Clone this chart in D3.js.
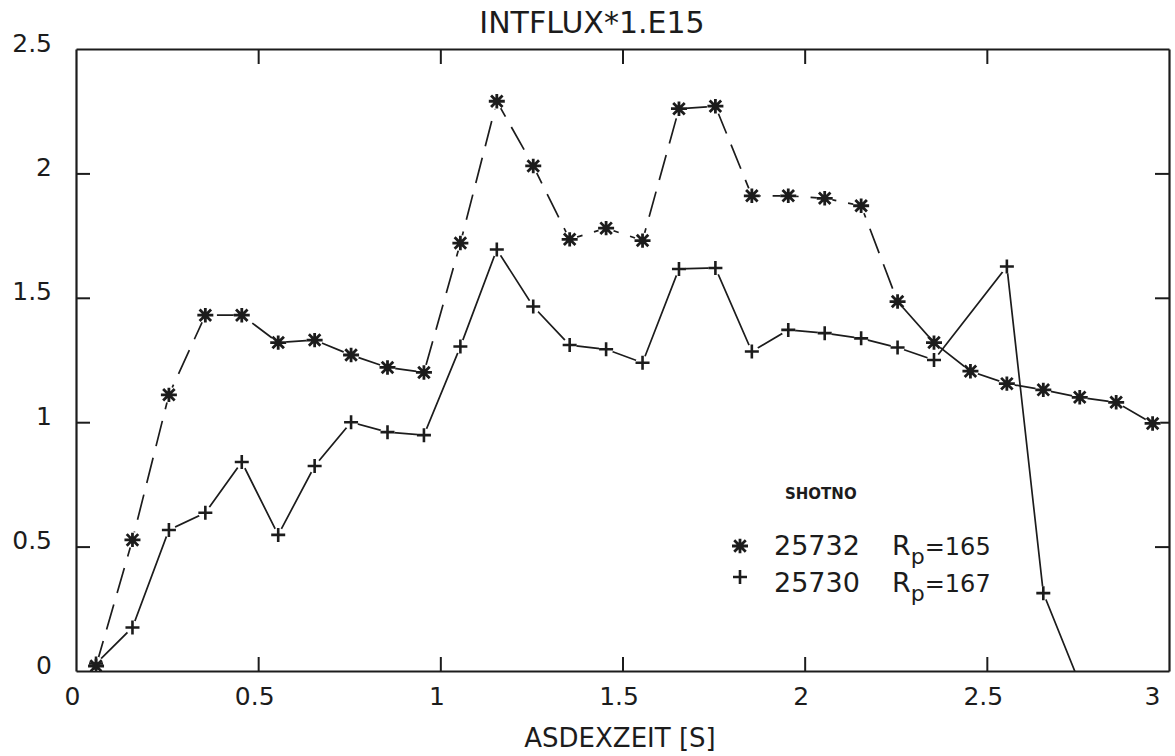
<!DOCTYPE html>
<html>
<head>
<meta charset="utf-8">
<script src="https://cdn.jsdelivr.net/npm/d3@7"></script>
<style>
  html, body { margin: 0; padding: 0; background: #fff; }
  svg { display: block; }
  text { font-family: "DejaVu Sans", sans-serif; fill: #1c1c1c; }
</style>
</head>
<body>
<svg id="chart" width="1175" height="756"></svg>
<script>
// Discharge time axis (s), sampled every 0.1 s
const times = [0.055, 0.155, 0.255, 0.355, 0.455, 0.555, 0.655, 0.755, 0.855, 0.955,
               1.055, 1.155, 1.255, 1.355, 1.455, 1.555, 1.655, 1.755, 1.855, 1.955,
               2.055, 2.155, 2.255, 2.355, 2.455, 2.555, 2.655, 2.755, 2.855, 2.955];

// Integrated flux (units of 1e15) for shot 25732, Rp = 165
const flux25732 = [0.02, 0.527, 1.11, 1.43, 1.43, 1.32, 1.33, 1.27, 1.22, 1.20,
                   1.72, 2.29, 2.03, 1.735, 1.78, 1.73, 2.26, 2.27, 1.91, 1.91,
                   1.90, 1.87, 1.485, 1.32, 1.205, 1.155, 1.13, 1.10, 1.08, 0.995];

// Integrated flux (units of 1e15) for shot 25730, Rp = 167 (no sample at 2.455 s)
const flux25730 = [0.03, 0.175, 0.567, 0.636, 0.84, 0.547, 0.824, 1.0, 0.96, 0.948,
                   1.304, 1.694, 1.465, 1.31, 1.293, 1.239, 1.616, 1.62, 1.284, 1.371,
                   1.358, 1.337, 1.30, 1.25, null, 1.626, 0.313, -0.05];

const xTicks = [0, 0.5, 1, 1.5, 2, 2.5, 3];
const xTickLabels = ["0", "0.5", "1", "1.5", "2", "2.5", "3"];
const yTicks = [0, 0.5, 1, 1.5, 2, 2.5];
const yTickLabels = ["0", "0.5", "1", "1.5", "2", "2.5"];

const legendTitle = "SHOTNO";
const legendShots = ["25732", "25730"];
const legendRp = ["165", "167"];

const chartTitle = "INTFLUX*1.E15";
const xTitle = "ASDEXZEIT [S]";

// 25732 switches from dashed to solid from this time on
const SOLID_FROM = 2.2;

// ---------------------------------------------------------------
const ink = "#1c1c1c";
const svg = d3.select("#chart");
const plotLeft = 76, plotRight = 1169, plotTop = 49, plotBottom = 671;

const x = d3.scaleLinear().domain([0, 3]).range([plotLeft, plotRight]);
const y = d3.scaleLinear().domain([0, 2.5]).range([plotBottom, plotTop]);

// Frame axes, ticks pointing inwards
function styleAxis(g, hideEnds) {
  g.select(".domain").attr("stroke", ink).attr("stroke-width", 2.2);
  g.selectAll(".tick line").attr("stroke", ink).attr("stroke-width", 2);
  g.selectAll(".tick text").attr("fill", ink).attr("font-family", "DejaVu Sans");
  if (hideEnds) {
    const n = g.selectAll(".tick").size();
    g.selectAll(".tick").filter((d, i) => i === 0 || i === n - 1).select("line").remove();
  }
}

svg.append("g")
  .attr("transform", `translate(0,${plotBottom})`)
  .call(d3.axisBottom(x).tickValues(xTicks).tickFormat((d, i) => xTickLabels[i])
    .tickSizeInner(-14).tickSizeOuter(0).tickPadding(16))
  .call(g => styleAxis(g, true))
  .call(g => {
    const labels = g.selectAll(".tick text").attr("font-size", 25).attr("dx", -4);
    // last label kept inside the page edge
    labels.filter((d, i, n) => i === n.length - 1)
      .attr("text-anchor", "end").attr("dx", -9);
  });

svg.append("g")
  .attr("transform", `translate(0,${plotTop})`)
  .call(d3.axisTop(x).tickValues(xTicks).tickFormat("")
    .tickSizeInner(-15).tickSizeOuter(0))
  .call(g => styleAxis(g, true));

svg.append("g")
  .attr("transform", `translate(${plotLeft},0)`)
  .call(d3.axisLeft(y).tickValues(yTicks).tickFormat((d, i) => yTickLabels[i])
    .tickSizeInner(-14).tickSizeOuter(0).tickPadding(24))
  .call(g => styleAxis(g, true))
  .call(g => g.selectAll(".tick text").attr("font-size", 25).attr("dy", 2));

svg.append("g")
  .attr("transform", `translate(${plotRight},0)`)
  .call(d3.axisRight(y).tickValues(yTicks).tickFormat("")
    .tickSizeInner(-14).tickSizeOuter(0))
  .call(g => styleAxis(g, true));

// Titles
svg.append("text").attr("x", 592).attr("y", 33).attr("text-anchor", "middle")
  .attr("font-size", 30).text(chartTitle);
svg.append("text").attr("x", 620).attr("y", 747).attr("text-anchor", "middle")
  .attr("font-size", 26).text(xTitle);

// Data
svg.append("clipPath").attr("id", "plot-clip")
  .append("rect").attr("x", plotLeft).attr("y", plotTop - 20)
  .attr("width", plotRight - plotLeft + 10).attr("height", plotBottom - plotTop + 20);

const plot = svg.append("g").attr("clip-path", "url(#plot-clip)");

const ptsA = times.map((t, i) => ({ t, v: flux25732[i] }));
const ptsB = flux25730.map((v, i) => ({ t: times[i], v })).filter(d => d.v !== null);

const line = d3.line().x(d => x(d.t)).y(d => y(d.v));

// 25732: dashed part, then solid tail
const splitIdx = ptsA.findIndex(d => d.t > SOLID_FROM);
plot.append("path").datum(ptsA.slice(0, splitIdx + 1))
  .attr("d", line).attr("fill", "none").attr("stroke", ink)
  .attr("stroke-width", 1.7).attr("stroke-dasharray", "26,12");
plot.append("path").datum(ptsA.slice(splitIdx))
  .attr("d", line).attr("fill", "none").attr("stroke", ink)
  .attr("stroke-width", 1.7);

// 25730: solid
plot.append("path").datum(ptsB)
  .attr("d", line).attr("fill", "none").attr("stroke", ink)
  .attr("stroke-width", 1.7);

// Marker glyphs
function asteriskPath(r) {
  const a = r * 0.72;
  return `M${-r},0L${r},0M0,${-r * 0.9}L0,${r * 0.9}M${-a},${-a}L${a},${a}M${-a},${a}L${a},${-a}`;
}
function plusPath(r) {
  return `M${-r},0L${r},0M0,${-r}L0,${r}`;
}

const markers = plot.append("g");
markers.selectAll(".halo-a").data(ptsA).join("circle")
  .attr("cx", d => x(d.t)).attr("cy", d => y(d.v)).attr("r", 8).attr("fill", "#fff");
markers.selectAll(".halo-b").data(ptsB).join("circle")
  .attr("cx", d => x(d.t)).attr("cy", d => y(d.v)).attr("r", 7).attr("fill", "#fff");

markers.selectAll(".mk-a").data(ptsA).join("path")
  .attr("transform", d => `translate(${x(d.t)},${y(d.v)})`)
  .attr("d", asteriskPath(8)).attr("fill", "none")
  .attr("stroke", ink).attr("stroke-width", 2.8);
markers.selectAll(".mk-b").data(ptsB).join("path")
  .attr("transform", d => `translate(${x(d.t)},${y(d.v)})`)
  .attr("d", plusPath(7)).attr("fill", "none")
  .attr("stroke", ink).attr("stroke-width", 2.6);

// Legend
const legend = svg.append("g");
legend.append("text").attr("x", 785).attr("y", 499)
  .attr("font-size", 15).attr("font-weight", "bold").text(legendTitle);

const rows = [
  { glyph: asteriskPath(8), w: 2.8, cy: 546, base: 555 },
  { glyph: plusPath(7), w: 2.6, cy: 577, base: 592 }
];
rows.forEach((r, i) => {
  legend.append("path").attr("transform", `translate(740,${r.cy})`)
    .attr("d", r.glyph).attr("fill", "none").attr("stroke", ink).attr("stroke-width", r.w);
  legend.append("text").attr("x", 774).attr("y", r.base).attr("font-size", 27)
    .text(legendShots[i]);
  const t = legend.append("text").attr("x", 892).attr("y", r.base).attr("font-size", 27);
  t.append("tspan").text("R");
  t.append("tspan").attr("font-size", 22).attr("dy", 9).text("p");
  t.append("tspan").attr("font-size", 24).attr("dy", -9).text("=" + legendRp[i]);
});
</script>
</body>
</html>
